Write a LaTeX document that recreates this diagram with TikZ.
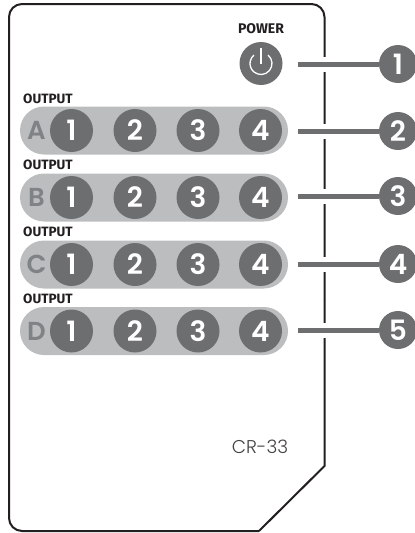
\documentclass[tikz,border=0pt]{standalone}
\usepackage{fontspec}
\setmainfont{Poppins}[BoldFont={Poppins SemiBold}]
\newfontfamily\labfont{Fira Sans}
\newfontfamily\thinfont{Poppins Light}
\definecolor{dk}{HTML}{6D6E70}
\definecolor{lt}{HTML}{BBBDBF}
\definecolor{ol}{HTML}{231F20}
\definecolor{letc}{HTML}{808285}
\tikzset{
  pill/.style={fill=lt,draw=none,rounded corners=24pt,minimum width=268pt,minimum height=48pt,inner sep=0pt},
  btn/.style={circle,fill=dk,minimum size=43pt,inner sep=0pt,text=white,font=\fontsize{28}{28}\selectfont\bfseries},
  callout/.style={circle,fill=dk,minimum size=38pt,inner sep=0pt,text=white,font=\fontsize{28}{28}\selectfont\bfseries},
  rowletter/.style={text=letc,font=\fontsize{26}{26}\selectfont\bfseries,inner sep=0pt},
  outlab/.style={text=ol,font=\labfont\fontsize{13.5}{14}\selectfont\bfseries,inner sep=0pt,anchor=west},
  halo/.style={white,line width=15pt},
  lead/.style={dk,line width=5pt},
  case/.style={ol,line width=2pt},
  iconline/.style={white,line width=1.3pt}
}
\begin{document}
\begin{tikzpicture}[x=1pt,y=-1pt]
\useasboundingbox (0,0) rectangle (415,533);
\draw[case,rounded corners=13pt] (9,300) -- (9,4) -- (324.5,4) -- (324.5,300);
\draw[case] (324.5,300) -- (324.5,466) -- (259,531);
\draw[case,rounded corners=13pt] (259,531) -- (9,531) -- (9,300);
\node[text=ol,font=\labfont\fontsize{14}{15}\selectfont\bfseries,inner sep=0pt] (pw) at (261,29) {POWER};
\node[btn] (p) at (261,63.5) {};
\draw[iconline] (268.07,55.07) arc[start angle=50,end angle=-230,radius=11pt];
\draw[iconline] (261,48) -- (p.center);
\foreach \r/\y/\ol/\L in {a/130.5/99/A,b/197.5/165/B,c/264.5/232/C,d/331/299/D}{
  \node[outlab] (lab\r) at (23,\ol) {OUTPUT};
  \node[pill] (pill\r) at (154,\y) {};
  \node[rowletter] (let\r) at (36.5,\y) {\L};
  \node[btn] (\r1) at (71.5,\y) {1};
  \node[btn] (\r2) at (135,\y) {2};
  \node[btn] (\r3) at (198,\y) {3};
  \node[btn] (\r4) at (260.5,\y) {4};
}
\node[text=ol!85,font=\thinfont\fontsize{18.5}{20}\selectfont,inner sep=0pt] (model) at (260,447) {CR-33};
\foreach \n/\y in {1/64,2/131,3/196,4/264,5/330}{
  \node[callout] (c\n) at (398,\y) {\n};
  \coordinate (s\n) at (298,\y);
  \draw[halo] (322,\y) -- (327,\y);
  \draw[lead] (s\n) -- (c\n);
}
\end{tikzpicture}
\end{document}
